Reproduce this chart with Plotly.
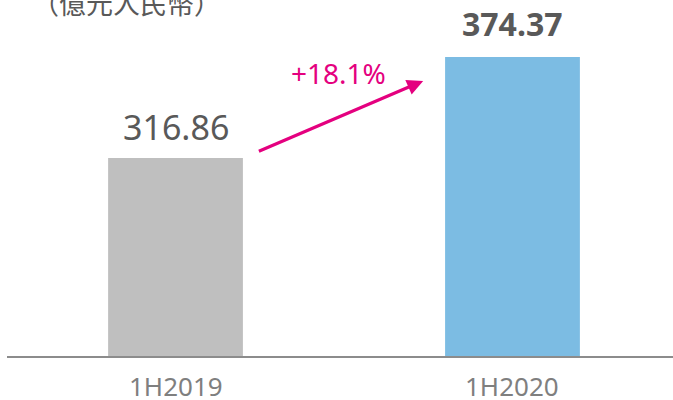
import plotly.graph_objects as go

categories = ["1H2019", "1H2020"]
values = [316.86, 374.37]
value_labels = ["316.86", "374.37"]
growth_label = "+18.1%"
unit_label = "（億元人民幣）"

bar_colors = ["#BFBFBF", "#7CBCE3"]
y_min = 203.5
px_per_unit = 1.756
plot_h = 357
y_max = y_min + plot_h / px_per_unit

fig = go.Figure()
fig.add_trace(go.Bar(
    x=[0, 1], y=values, width=0.4,
    marker=dict(color=bar_colors, line=dict(width=0)),
    hoverinfo="skip",
))

# value labels
fig.add_annotation(x=0, y=values[0], text=value_labels[0], showarrow=False,
                   yanchor="middle", yshift=31,
                   font=dict(family="Noto Sans", size=34, color="#595959"))
fig.add_annotation(x=1, y=values[1], text="<b>" + value_labels[1] + "</b>", showarrow=False,
                   yanchor="middle", yshift=33,
                   font=dict(family="Noto Sans", size=32, color="#595959"))

# category labels
for i, c in enumerate(categories):
    fig.add_annotation(x=i, y=0, yref="paper", text=c, showarrow=False,
                       yanchor="middle", yshift=-29,
                       font=dict(family="Noto Sans", size=26, color="#7F7F7F"))

# growth arrow
fig.add_annotation(x=0.735, y=values[1] - 24 / px_per_unit,
                   ax=0.243, ay=values[0] + 6 / px_per_unit,
                   xref="x", yref="y", axref="x", ayref="y",
                   text="", showarrow=True, arrowhead=2, arrowsize=1.0,
                   arrowwidth=3.2, arrowcolor="#E4007F", standoff=0)
fig.add_annotation(x=0.485, y=values[1] - 16 / px_per_unit, text=growth_label,
                   showarrow=False, yanchor="middle",
                   font=dict(family="Noto Sans", size=28, color="#E4007F"))

# unit label (partly cut at top)
fig.add_annotation(x=0, y=1, xref="paper", yref="paper", text=unit_label,
                   showarrow=False, xanchor="left", yanchor="middle",
                   xshift=30, yshift=-2,
                   font=dict(family="Noto Sans CJK TC", size=27, color="#595959"))

# baseline
fig.add_shape(type="line", xref="x", yref="paper", x0=-0.5, x1=1.6, y0=0, y1=0,
              line=dict(color="#8C8C8C", width=2))

fig.update_layout(
    width=673, height=400,
    margin=dict(l=0, r=0, t=0, b=43),
    paper_bgcolor="white", plot_bgcolor="white",
    showlegend=False,
    xaxis=dict(range=[-0.5208, 1.4763], visible=False, fixedrange=True),
    yaxis=dict(range=[y_min, y_max], visible=False, fixedrange=True),
)

fig.write_html("out.html", config={"displayModeBar": False},
               post_script="document.body.style.margin='0';")
